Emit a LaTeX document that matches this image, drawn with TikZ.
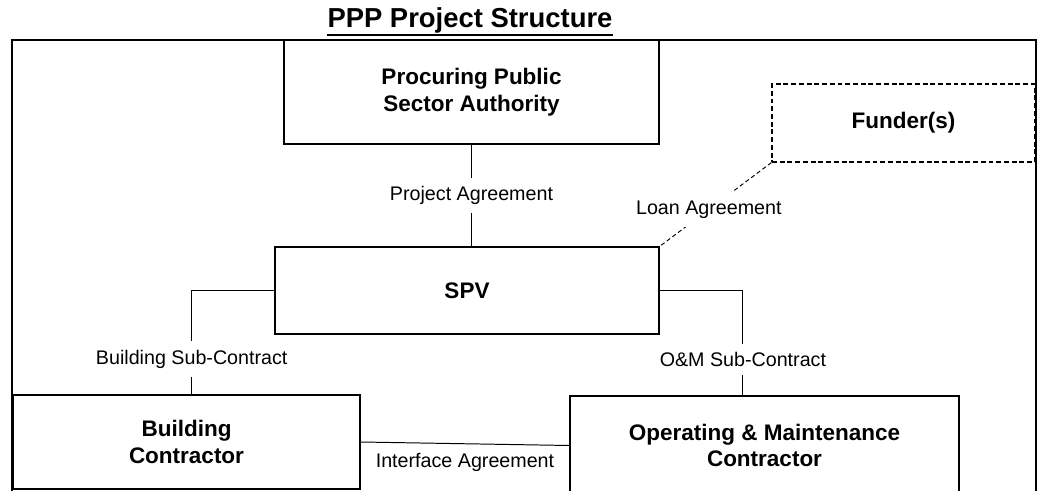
\documentclass[tikz,border=0pt]{standalone}
\usepackage{fontspec}
\setmainfont{Liberation Sans}
\usepackage{tikz}

\begin{document}
\begin{tikzpicture}[x=0.025cm,y=-0.025cm,
    box/.style={draw,line width=0.9pt,align=center,font=\fontsize{16}{19}\selectfont\bfseries},
    lbl/.style={fill=white,inner xsep=2pt,inner ysep=0.21cm,font=\fontsize{14}{16}\selectfont}]
    \useasboundingbox (0,0) rectangle (1039,491);
    \draw[line width=1.4pt] (12,520) -- (12,40) -- (1036,40) -- (1036,520);
    \node[inner sep=0,anchor=base,font=\fontsize{19.5}{22}\selectfont\bfseries] (T) at (470,28) {PPP Project Structure};
    \draw[line width=1.5pt] ([yshift=-0.17cm]T.base west) -- ([yshift=-0.17cm]T.base east);
    \node[box,minimum width=9.375cm,minimum height=2.6cm] (PPSA) at (471.5,92) {Procuring Public\\Sector Authority};
    \node[box,line width=0.8pt,dash pattern=on 3.5pt off 2pt,minimum width=6.575cm,minimum height=1.95cm] (FU) at (903.5,123) {Funder(s)};
    \node[box,minimum width=9.6cm,minimum height=2.175cm] (SPV) at (467,290.5) {SPV};
    \node[box,minimum width=8.675cm,minimum height=2.35cm] (BC) at (186.5,442) {Building\\Contractor};
    \node[box,minimum width=9.725cm,minimum height=2.475cm] (OM) at (764.5,445.5) {Operating \& Maintenance\\Contractor};
    \draw[line width=0.7pt] (PPSA.south) -- (PPSA.south |- SPV.north) node[lbl,midway] {Project Agreement};
    \draw[line width=0.7pt,dash pattern=on 3pt off 2pt] (FU.south west) -- (SPV.north east) node[lbl,pos=0.56] {Loan Agreement};
    \draw[line width=0.7pt] (SPV.west) -| ([xshift=0.13cm]BC.north) node[lbl,pos=0.83] {Building Sub-Contract};
    \draw[line width=0.7pt] (SPV.east) -| ([xshift=-0.54cm]OM.north) node[lbl,pos=0.83] {O\&M Sub-Contract};
    \draw[line width=0.7pt] (BC.east) -- (OM.west) node[midway,below=0.12cm,font=\fontsize{14}{16}\selectfont] {Interface Agreement};
\end{tikzpicture}
\end{document}
